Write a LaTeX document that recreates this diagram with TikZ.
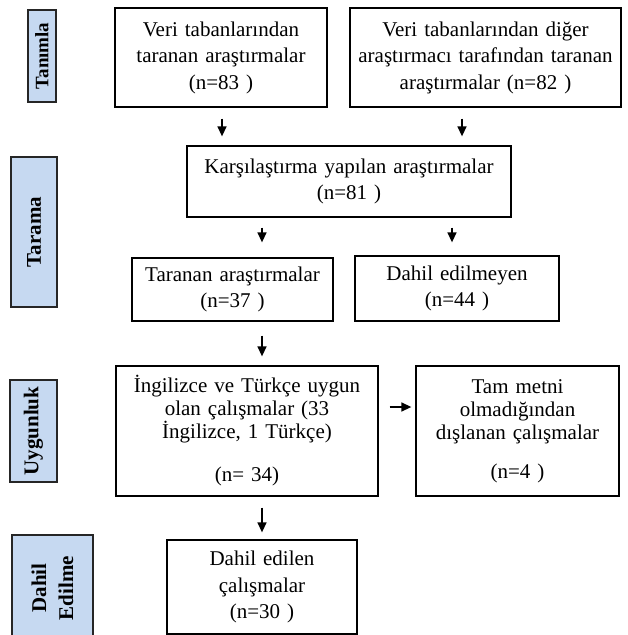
\documentclass[tikz,border=0pt]{standalone}
\usepackage{fontspec}
\setmainfont{Liberation Serif}
\usetikzlibrary{arrows.meta,calc}
\definecolor{sidefill}{HTML}{C6D9F1}
\begin{document}
\begin{tikzpicture}[x=1pt,y=-1pt,
  box/.style={draw=black, line width=1.3pt, align=center, inner sep=0pt, font=\fontsize{21}{26.5}\selectfont},
  tightbox/.style={box, font=\fontsize{21}{23}\selectfont},
  side/.style={draw=black!85, line width=2pt, fill=sidefill, rotate=90, align=center, inner sep=0pt, font=\fontsize{21}{27}\bfseries\selectfont},
  arr/.style={line width=1.4pt, -{Triangle[length=10pt,width=9pt]}}]
\useasboundingbox (0,0) rectangle (628,635);
% side labels
\node[side, minimum width=92pt, minimum height=28pt, font=\fontsize{19}{24}\bfseries\selectfont] (s1) at (42,56) {Tanımla};
\node[side, minimum width=150pt, minimum height=46pt] (s2) at (34,232) {Tarama};
\node[side, minimum width=102pt, minimum height=47pt] (s3) at (33.5,431) {Uygunluk};
\node[side, minimum width=106pt, minimum height=81pt] (s4) at (52.5,588) {Dahil\\Edilme};
% boxes
\node[box, minimum width=212pt, minimum height=99pt, text width=205pt] (b1) at (221,57.5) {Veri tabanlarından\\taranan araştırmalar\\(n=83 )};
\node[box, minimum width=271pt, minimum height=99pt, text width=265pt] (b2) at (485.5,57.5) {Veri tabanlarından diğer\\araştırmacı tarafından taranan\\araştırmalar (n=82 )};
\node[box, minimum width=324pt, minimum height=71pt, text width=318pt] (b3) at (349,181.5) {Karşılaştırma yapılan araştırmalar\\(n=81 )};
\node[box, minimum width=201pt, minimum height=63pt, text width=195pt] (b4) at (232.5,289.5) {Taranan araştırmalar\\(n=37 )};
\node[box, minimum width=204pt, minimum height=65pt, text width=198pt] (b5) at (457,288.5) {Dahil edilmeyen\\(n=44 )};
\node[tightbox, minimum width=262pt, minimum height=130pt, text width=255pt] (b6) at (247,431) {İngilizce ve Türkçe uygun\\olan çalışmalar (33\\İngilizce, 1 Türkçe)\\[20pt](n= 34)};
\node[tightbox, minimum width=203pt, minimum height=130pt, text width=197pt] (b7) at (517.5,431) {Tam metni\\olmadığından\\dışlanan çalışmalar\\[16pt](n=4 )};
\node[box, minimum width=190pt, minimum height=94pt, text width=184pt] (b8) at (262,587) {Dahil edilen\\çalışmalar\\(n=30 )};
% arrows
\coordinate (x1) at (222,0);
\coordinate (x2) at (462,0);
\coordinate (x3) at (262,0);
\coordinate (x4) at (452,0);
\draw[arr, shorten <=11pt, shorten >=9pt] (x1 |- b1.south) -- (x1 |- b3.north);
\draw[arr, shorten <=11pt, shorten >=9pt] (x2 |- b2.south) -- (x2 |- b3.north);
\draw[arr, shorten <=10pt, shorten >=15pt] (x3 |- b3.south) -- (x3 |- b4.north);
\draw[arr, shorten <=10pt, shorten >=13pt] (x4 |- b3.south) -- (x4 |- b5.north);
\draw[arr, shorten <=14pt, shorten >=9pt] (x3 |- b4.south) -- (x3 |- b6.north);
\draw[arr, shorten <=11pt, shorten >=4pt] (b6.east |- 0,407) -- (b7.west |- 0,407);
\draw[arr, shorten <=11pt, shorten >=7pt] (x3 |- b6.south) -- (x3 |- b8.north);
\end{tikzpicture}
\end{document}
